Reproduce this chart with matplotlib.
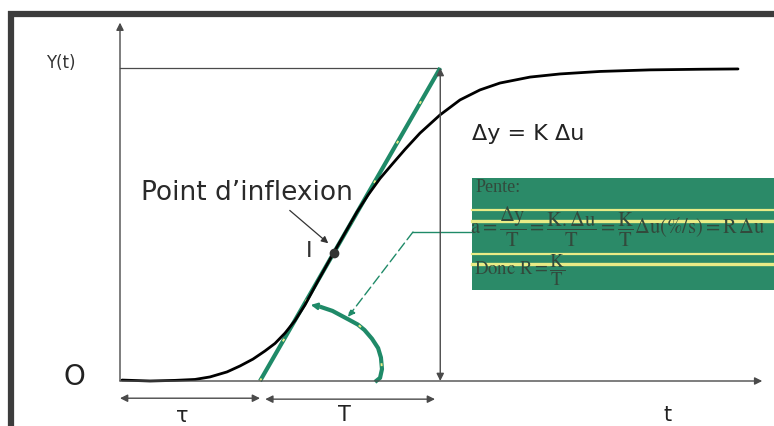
import numpy as np
import matplotlib.pyplot as plt
from matplotlib.lines import Line2D
from matplotlib.patches import Rectangle

plt.rcParams['font.family'] = ['DejaVu Sans']
plt.rcParams['mathtext.fontset'] = 'stix'
plt.rcParams['mathtext.default'] = 'rm'

# step response (t, Y)
t_resp = [0.114, 1.714, 3.143, 4.286, 5.143, 6.114, 6.857, 7.6, 8.286, 8.857,
          9.429, 10.0, 10.571, 11.314, 12.171, 12.857, 13.543, 14.171, 14.857,
          15.543, 16.286, 17.143, 18.286, 19.429, 20.571, 21.714, 23.429,
          25.143, 27.429, 30.286, 33.143, 35.314]
y_resp = [0.003, 0.0, 0.002, 0.005, 0.013, 0.029, 0.048, 0.070, 0.096, 0.120,
          0.153, 0.193, 0.243, 0.320, 0.406, 0.473, 0.540, 0.594, 0.647,
          0.692, 0.740, 0.792, 0.850, 0.898, 0.930, 0.952, 0.971,
          0.981, 0.989, 0.994, 0.996, 0.997]

tau = 8.0          # retard
T = 10.3           # constante de temps
y_final = 1.0
t_infl, y_infl = 12.2, 0.41

# courbe verte (pente) entre la tangente et l'axe
t_arc = [11.29, 12.14, 13.11, 13.6, 13.97, 14.4, 14.75, 14.91, 14.97, 14.86, 14.57]
y_arc = [0.24, 0.224, 0.195, 0.18, 0.163, 0.135, 0.105, 0.075, 0.038, 0.01, -0.003]

green = '#1f8a68'
yellow = '#e9ec86'
axis_col = '#4a4a4a'

fig = plt.figure(figsize=(7.74, 4.27), dpi=100)
ax = fig.add_axes([0, 0, 1, 1])
ax.set_xlim(-120 / 17.5, 654 / 17.5)
ax.set_ylim(-45 / 313, 382 / 313)
ax.axis('off')

# cadre
fig.add_artist(Line2D([8 / 774, 1], [1 - 15 / 427] * 2, transform=fig.transFigure,
                      color='#3c3c3c', lw=4.5, solid_capstyle='butt'))
fig.add_artist(Line2D([11 / 774] * 2, [0, 1 - 12 / 427], transform=fig.transFigure,
                      color='#3c3c3c', lw=4.5, solid_capstyle='butt'))

# axes
arr = dict(arrowstyle='-|>', color=axis_col, lw=1.0, mutation_scale=11,
           shrinkA=0, shrinkB=0)
ax.annotate('', xy=(0, 1.145), xytext=(0, 0), arrowprops=arr)
ax.annotate('', xy=(36.7, 0), xytext=(0, 0), arrowprops=arr)
ax.plot([0, tau + T], [y_final, y_final], color=axis_col, lw=0.9)

# delta y
darr = dict(arr, arrowstyle='<|-|>')
ax.annotate('', xy=(tau + T, y_final), xytext=(tau + T, 0), arrowprops=darr)

# tau et T
ax.annotate('', xy=(tau, -0.055), xytext=(0, -0.055), arrowprops=darr)
ax.annotate('', xy=(tau + T - 0.3, -0.058), xytext=(tau + 0.3, -0.058), arrowprops=darr)

# tangente au point d'inflexion
ax.plot([tau, tau + T], [0, y_final], color=green, lw=3, solid_capstyle='butt')
ax.plot([tau, tau + T], [0, y_final], color=yellow, lw=1.4, dashes=(1.5, 22))

# réponse
ax.plot(t_resp, y_resp, color='black', lw=2, solid_capstyle='round')

# arc vert
ax.plot(t_arc, y_arc, color=green, lw=3, solid_capstyle='butt')
ax.plot(t_arc, y_arc, color=yellow, lw=1.4, dashes=(1.5, 22))
ax.annotate('', xy=(10.9, 0.243), xytext=(11.6, 0.236),
            arrowprops=dict(arrowstyle='-|>', color=green, lw=1.5,
                            mutation_scale=10, shrinkA=0, shrinkB=0))

# point d'inflexion
ax.plot([t_infl], [y_infl], 'o', color='#333333', ms=6)
ax.text(10.8, 0.42, 'I', fontsize=16, color='#333333', ha='center', va='center')
ax.text(1.2, 0.605, 'Point d\u2019inflexion', fontsize=19, color='#2a2a2a',
        ha='left', va='center')
ax.annotate('', xy=(11.9, 0.44), xytext=(9.7, 0.545),
            arrowprops=dict(arrowstyle='-|>', color='#333333', lw=0.9,
                            mutation_scale=10, shrinkA=0, shrinkB=0))

# encadré vert
box_x0, box_y0, box_y1 = 20.11, 0.291, 0.649
ax.add_patch(Rectangle((box_x0, box_y0), 40, box_y1 - box_y0,
                       facecolor='#2b8a68', edgecolor='none'))
for yl, lw in [(0.546, 1.6), (0.511, 2.4), (0.406, 1.6), (0.374, 2.4)]:
    ax.plot([box_x0, 40], [yl, yl], color=yellow, lw=lw)
txt = '#324a3c'
ax.text(20.3, 0.623, 'Pente:', fontsize=13, family='Liberation Serif',
        color=txt, ha='left', va='center')
ax.text(20.0, 0.497,
        r'$a=\dfrac{\Delta y}{T}=\dfrac{K.\Delta u}{T}=\dfrac{K}{T}\Delta u(\%/s)=R\,\Delta u$',
        fontsize=14.8, color=txt, ha='left', va='center')
ax.text(20.2, 0.357, r'$Donc\ R=\dfrac{K}{T}$', fontsize=13.5, color=txt,
        ha='left', va='center')

# renvoi vers l'arc
ax.plot([box_x0, 16.74], [0.476, 0.476], color=green, lw=1)
ax.annotate('', xy=(13.03, 0.205), xytext=(16.74, 0.476),
            arrowprops=dict(arrowstyle='-|>', color=green, lw=1, ls=(0, (7, 3)),
                            mutation_scale=10, shrinkA=0, shrinkB=0))

# étiquettes
ax.text(-3.4, 1.02, 'Y(t)', fontsize=12, color='#333333', ha='center', va='center')
ax.text(-2.6, 0.017, 'O', fontsize=20, color='#222222', ha='center', va='center')
ax.text(20.1, 0.792, '\u0394y = K \u0394u', fontsize=16, color='#222222',
        ha='left', va='center')
ax.text(3.54, -0.11, '\u03c4', fontsize=15, color='#222222', ha='center', va='center')
ax.text(12.8, -0.105, 'T', fontsize=15, color='#222222', ha='center', va='center')
ax.text(31.3, -0.105, 't', fontsize=15, color='#222222', ha='center', va='center')

fig.savefig('out.png', dpi=100)
